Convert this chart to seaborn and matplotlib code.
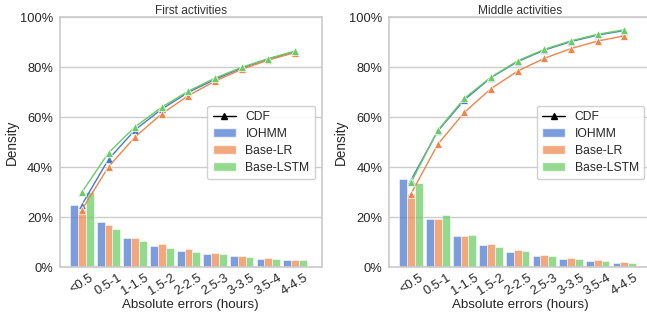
import numpy as np
import pandas as pd
import matplotlib
matplotlib.use("Agg")
import matplotlib.pyplot as plt
import seaborn as sns
from matplotlib.lines import Line2D
from matplotlib.patches import Patch
from matplotlib.ticker import PercentFormatter

categories = ["<0.5", "0.5-1", "1-1.5", "1.5-2", "2-2.5", "2.5-3", "3-3.5", "3.5-4", "4-4.5"]
models = ["IOHMM", "Base-LR", "Base-LSTM"]

# First activities (%)
first_iohmm = [25.0, 18.0, 11.7, 8.4, 6.6, 5.2, 4.4, 3.5, 3.0]
first_lr = [23.0, 17.0, 11.8, 9.2, 7.2, 5.7, 4.5, 3.7, 3.0]
first_lstm = [30.0, 15.5, 10.4, 7.9, 6.3, 5.2, 4.1, 3.4, 2.9]
first_cdf_iohmm = [25.0, 43.2, 55.0, 63.3, 70.0, 75.2, 79.7, 83.3, 86.2]
first_cdf_lr = [23.0, 40.2, 52.2, 61.4, 68.7, 74.5, 79.2, 82.9, 85.9]
first_cdf_lstm = [30.0, 45.8, 56.2, 64.1, 70.5, 75.7, 80.0, 83.5, 86.5]

# Middle activities (%)
mid_iohmm = [35.2, 19.2, 12.4, 8.8, 6.3, 4.6, 3.4, 2.5, 1.8]
mid_lr = [29.5, 19.5, 12.6, 9.4, 6.9, 5.0, 3.9, 2.9, 2.1]
mid_lstm = [33.7, 21.0, 12.9, 8.3, 6.5, 4.6, 3.3, 2.5, 1.6]
mid_cdf_iohmm = [35.0, 54.5, 67.0, 75.9, 82.3, 86.9, 90.3, 92.9, 94.7]
mid_cdf_lr = [29.5, 49.2, 62.0, 71.5, 78.5, 83.6, 87.5, 90.5, 92.6]
mid_cdf_lstm = [34.0, 54.8, 67.6, 76.1, 82.6, 87.2, 90.6, 93.2, 95.0]

sns.set_theme(style="whitegrid")
plt.rcParams["font.family"] = ["Liberation Sans", "DejaVu Sans"]
palette = sns.color_palette("muted", 3)

W, H = 647, 322
fig = plt.figure(figsize=(W / 100, H / 100), dpi=100)
ax1 = fig.add_axes([60 / W, (H - 267.3) / H, 261.7 / W, 250 / H])
ax2 = fig.add_axes([389.3 / W, (H - 267.3) / H, 261.7 / W, 250 / H])

panels = [
    (ax1, "First activities", [first_iohmm, first_lr, first_lstm], [first_cdf_iohmm, first_cdf_lr, first_cdf_lstm]),
    (ax2, "Middle activities", [mid_iohmm, mid_lr, mid_lstm], [mid_cdf_iohmm, mid_cdf_lr, mid_cdf_lstm]),
]

for ax, title, bars, cdfs in panels:
    rows = []
    for m, vals in zip(models, bars):
        for c, v in zip(categories, vals):
            rows.append({"cat": c, "model": m, "val": v / 100})
    df = pd.DataFrame(rows)
    sns.barplot(data=df, x="cat", y="val", hue="model", order=categories, hue_order=models,
                palette=palette, alpha=0.72, saturation=1, width=0.88, ax=ax, legend=False,
                edgecolor="white", linewidth=0.5)
    for i, (m, vals) in enumerate(zip(models, cdfs)):
        sns.lineplot(x=categories, y=np.array(vals) / 100, ax=ax, color=palette[i], marker="^",
                     markersize=5.5, markeredgewidth=0.5, linewidth=1, sort=False, legend=False)
    ax.set_xlim(-0.82, 9.0)
    ax.set_ylim(0, 1)
    ax.yaxis.set_major_formatter(PercentFormatter(1.0, decimals=0))
    ax.set_title(title, fontsize=8.6, pad=2.5, color="#333333")
    ax.set_xlabel("Absolute errors (hours)", fontsize=9.6, labelpad=1)
    ax.set_ylabel("Density", fontsize=9.8)
    ax.yaxis.set_label_coords(-0.158, 0.5)
    ax.tick_params(axis="x", labelsize=9.3, rotation=32, length=0, pad=3)
    ax.tick_params(axis="y", labelsize=9.3, length=0, pad=5)
    for lbl in ax.get_xticklabels():
        lbl.set_ha("center")
    handles = [Line2D([0], [0], color="black", marker="^", markersize=4, linewidth=1)]
    handles += [Patch(facecolor=palette[i], alpha=0.72, edgecolor="white") for i in range(3)]
    ax.legend(handles, ["CDF"] + models, loc="center right", bbox_to_anchor=(1.0, 0.5),
              fontsize=8.7, handlelength=1.9, handletextpad=0.8, borderpad=0.45,
              labelspacing=0.4, framealpha=0.9, borderaxespad=0.55)

fig.savefig("out.png", dpi=100)
